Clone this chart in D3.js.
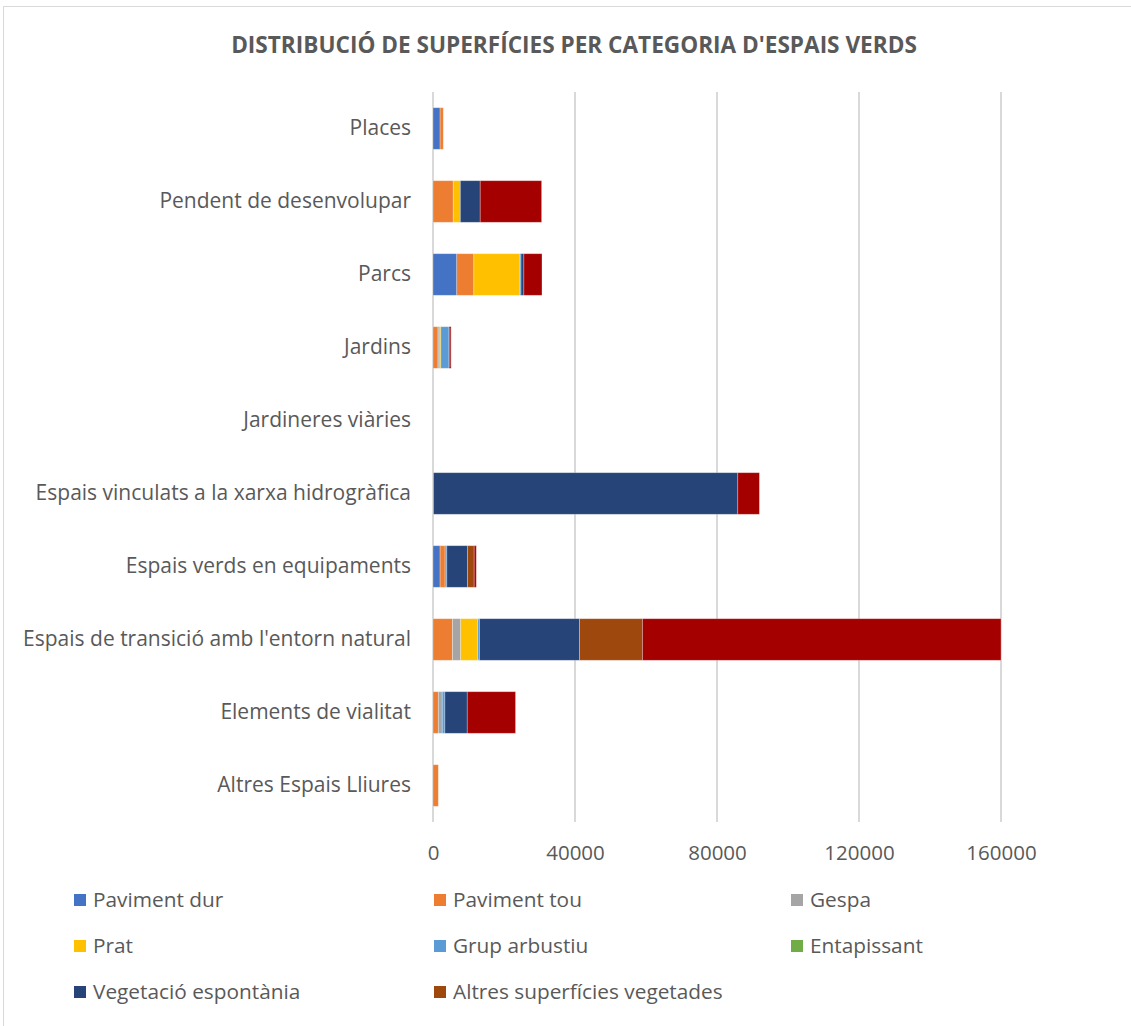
<!DOCTYPE html>
<html>
<head>
<meta charset="utf-8">
<script src="https://cdn.jsdelivr.net/npm/d3@7"></script>
<style>
  body { margin: 0; background: #fff; }
  text { font-family: "Open Sans", sans-serif; fill: #595959; }
</style>
</head>
<body>
<div id="chart"></div>
<script>
// categories, top to bottom
var categories = ["Places", "Pendent de desenvolupar", "Parcs", "Jardins", "Jardineres viàries",
  "Espais vinculats a la xarxa hidrogràfica", "Espais verds en equipaments",
  "Espais de transició amb l'entorn natural", "Elements de vialitat", "Altres Espais Lliures"];

var seriesNames = ["Paviment dur", "Paviment tou", "Gespa", "Prat", "Grup arbustiu",
  "Entapissant", "Vegetació espontània", "Altres superfícies vegetades", "Sèrie 9"];

// one array per series, same order as categories
var pavimentDur   = [2000,    0, 6700,    0, 0,     0, 2000,      0,     0,    0];
var pavimentTou   = [ 900, 5700, 4800, 1400, 0,     0, 1400,   5500,  1500, 1500];
var gespa         = [   0,    0,    0,  300, 0,     0,    0,   2300,  1100,    0];
var prat          = [   0, 2000,13000,  500, 0,     0,    0,   4800,     0,    0];
var grupArbustiu  = [   0,    0,  300, 2300, 0,   150,  500,    500,   750,    0];
var entapissant   = [   0,    0,    0,    0, 0,     0,    0,      0,     0,    0];
var vegetacio     = [   0, 5600,  800,  300, 0, 85700, 5800,  28200,  6300,    0];
var altresVeg     = [   0,    0,    0,    0, 0,     0, 1900,  17700,     0,    0];
var serie9        = [   0,17300, 5100,  300, 0,  6100,  600, 101000, 13600,    0];

var xTicks = [0, 40000, 80000, 120000, 160000];
var colors = ["#4472C4", "#ED7D31", "#A5A5A5", "#FFC000", "#5B9BD5", "#70AD47", "#264478", "#9E480E", "#A50000"];
var legendCount = 8;

var allSeries = [pavimentDur, pavimentTou, gespa, prat, grupArbustiu, entapissant, vegetacio, altresVeg, serie9];
var keys = seriesNames;
var table = categories.map(function (c, i) {
  var row = { cat: c };
  keys.forEach(function (k, j) { row[k] = allSeries[j][i]; });
  return row;
});

var W = 1131, H = 1026;
var svg = d3.select("#chart").append("svg").attr("width", W).attr("height", H);

// chart frame
svg.append("rect").attr("x", 3.5).attr("y", 6.5).attr("width", W + 10).attr("height", H + 10)
  .attr("fill", "none").attr("stroke", "#d9d9d9").attr("stroke-width", 1);

svg.append("text").attr("x", 574).attr("y", 53).attr("text-anchor", "middle")
  .style("font-size", "22.6px").style("font-weight", "bold")
  .text("DISTRIBUCIÓ DE SUPERFÍCIES PER CATEGORIA D'ESPAIS VERDS");

var plotL = 433, plotR = 1001, plotT = 92, plotB = 822;
var x = d3.scaleLinear().domain([0, 160000]).range([plotL, plotR]);
var y = d3.scaleBand().domain(categories).range([plotT, plotB]).paddingInner(0.43).paddingOuter(0.215);

// gridlines
svg.append("g").selectAll("line").data(xTicks).enter().append("line")
  .attr("x1", function (d) { return x(d); }).attr("x2", function (d) { return x(d); })
  .attr("y1", plotT).attr("y2", plotB)
  .attr("stroke", "#d9d9d9").attr("stroke-width", 2);

var stack = d3.stack().keys(keys)(table);
svg.append("g").selectAll("g").data(stack).enter().append("g")
  .attr("fill", function (d, i) { return colors[i]; })
  .selectAll("rect").data(function (d) { return d; }).enter().append("rect")
  .attr("x", function (d) { return x(d[0]); })
  .attr("width", function (d) { return x(d[1]) - x(d[0]); })
  .attr("y", function (d) { return y(d.data.cat); })
  .attr("height", y.bandwidth())
  .attr("stroke", "#fff").attr("stroke-opacity", 0.35).attr("stroke-width", 0.8);

// category labels
var yAxis = d3.axisLeft(y).tickSize(0).tickPadding(22);
var gy = svg.append("g").attr("transform", "translate(" + plotL + ",0)").call(yAxis);
gy.select(".domain").remove();
gy.selectAll("text").style("font-size", "21px").attr("fill", "#595959")
  .style("font-family", "'Open Sans', sans-serif");

// value axis labels
var xAxis = d3.axisBottom(x).tickValues(xTicks).tickSize(0).tickPadding(23).tickFormat(d3.format("d"));
var gx = svg.append("g").attr("transform", "translate(0," + plotB + ")").call(xAxis);
gx.select(".domain").remove();
gx.selectAll("text").style("font-size", "20.5px").attr("fill", "#595959")
  .style("font-family", "'Open Sans', sans-serif");

// legend
var legX = [74, 434, 791], legY = [900, 946, 992];
var leg = svg.append("g").selectAll("g").data(seriesNames.slice(0, legendCount)).enter().append("g")
  .attr("transform", function (d, i) {
    return "translate(" + legX[i % 3] + "," + legY[Math.floor(i / 3)] + ")";
  });
leg.append("rect").attr("x", 0).attr("y", -6).attr("width", 12).attr("height", 12)
  .attr("fill", function (d, i) { return colors[i]; });
leg.append("text").attr("x", 19).attr("y", 7).style("font-size", "20.8px").text(function (d) { return d; });
</script>
</body>
</html>
